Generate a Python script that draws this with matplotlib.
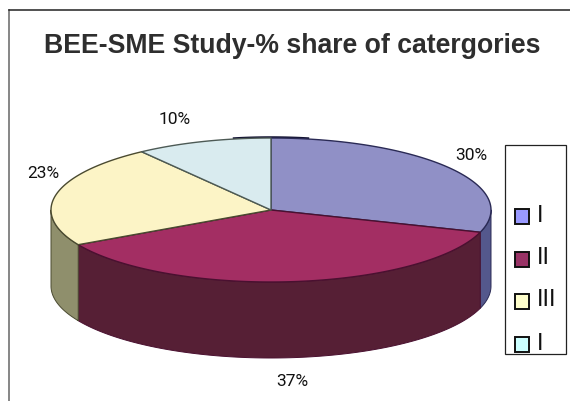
import numpy as np
import matplotlib
matplotlib.use("Agg")
import matplotlib.pyplot as plt
from matplotlib.patches import Polygon, Rectangle

# category shares, clockwise from 12 o'clock
categories = ["I", "II", "III", "I"]
shares = [30, 37, 23, 10]
top_colors = ["#9090c6", "#a32e63", "#fcf4c6", "#d9ebef"]
side_colors = ["#54588c", "#561f35", "#8f8f6c", "#6d7678"]
legend_colors = ["#9999ff", "#993366", "#ffffcc", "#ccffff"]
edge_colors = ["#2a2a55", "#4a1030", "#4a4a30", "#4d5a55"]

# label centres in pixels
label_pos = [(471, 155), (292, 381), (43, 174), (175, 120)]

# pie shape in pixels
cx, cy = 271, 210
rx, ry = 220, 72
depth = 76


def rim(a1, a2):
    # a is degrees clockwise from the top of the ellipse
    a = np.radians(np.linspace(a1, a2, 120))
    return np.column_stack([cx + rx * np.sin(a), cy - ry * np.cos(a)])


fig = plt.figure(figsize=(5.70, 4.01), dpi=100, facecolor="white")
ax = fig.add_axes([0, 0, 1, 1])
ax.set_xlim(0, 570)
ax.set_ylim(401, 0)
ax.axis("off")

# outer frame, open at the bottom and right
ax.plot([9, 9], [401, 10], color="#666666", lw=1.1)
ax.plot([9, 570], [10, 10], color="#222222", lw=1.1)

edges = np.cumsum([0] + shares) * 3.6

# side walls first, only the front half of the rim shows
for i in range(len(shares)):
    a1, a2 = max(edges[i], 90), min(edges[i + 1], 270)
    if a1 >= a2:
        continue
    arc = rim(a1, a2)
    low = arc[::-1] + [0, depth]
    ax.add_patch(Polygon(np.vstack([arc, low]), closed=True, fc=side_colors[i],
                         ec=edge_colors[i], lw=0.7, joinstyle="round"))

# dark sliver of the back wall at the top
ax.add_patch(Polygon(rim(-10, 10) + [0, -0.8], closed=False, fill=False, ec="#141433", lw=1.4))

# top faces
for i in range(len(shares)):
    arc = rim(edges[i], edges[i + 1])
    ax.add_patch(Polygon(np.vstack([[cx, cy], arc]), closed=True, fc=top_colors[i],
                         ec=edge_colors[i], lw=1.0, joinstyle="round"))

# data labels
for s, (x, y) in zip(shares, label_pos):
    ax.text(x, y, f"{s}%", ha="center", va="center", fontsize=12.5,
            family="Roboto", color="#111111")

ax.text(292, 46, "BEE-SME Study-% share of catergories", ha="center", va="center",
        fontsize=19.2, fontweight="bold", family="Liberation Sans", color="#2e2e2e")

# legend box, last row runs into the bottom edge
box = Rectangle((505, 145), 61, 208.5, fc="white", ec="#222222", lw=0.9)
ax.add_patch(box)
row_y = [216.5, 259, 301.5, 344.5]
for name, col, y in zip(categories, legend_colors, row_y):
    ax.add_patch(Rectangle((515, y - 7.5), 14, 15, fc=col, ec="#111111", lw=1.4))
    t = ax.text(537, y - 1, name, ha="left", va="center", fontsize=17,
                family="Liberation Sans", color="#111111")
    t.set_clip_path(box)

fig.savefig("out.png", dpi=100, facecolor="white")
